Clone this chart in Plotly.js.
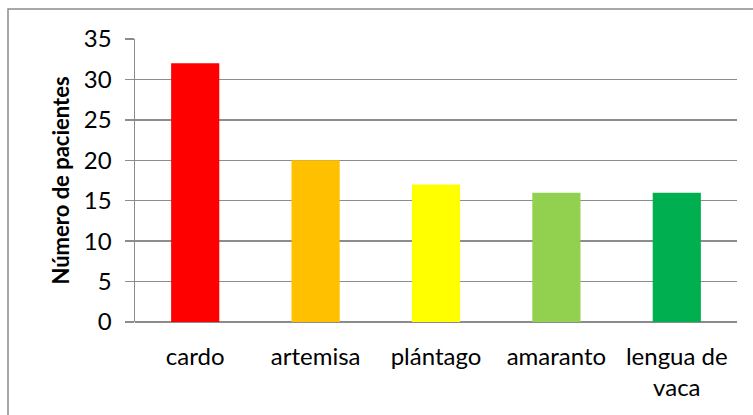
<!DOCTYPE html>
<html>
<head>
<meta charset="utf-8">
<script src="https://cdn.plot.ly/plotly-3.0.1.min.js"></script>
<style>
  html, body { margin: 0; padding: 0; background: #ffffff; }
  #chart { width: 753px; height: 415px; }
</style>
</head>
<body>
<div id="chart"></div>
<script>
// Plants and number of patients for each one
const categories = ["cardo", "artemisa", "plántago", "amaranto", "lengua de<br>vaca"];
const patients = [32, 20, 17, 16, 16];
const barColors = ["#FF0000", "#FFC000", "#FFFF00", "#92D050", "#00B050"];
const yTicks = [0, 5, 10, 15, 20, 25, 30, 35];

const gridGray = "#8C8C8C";
const fontFamily = "Lato, 'Open Sans', sans-serif";

const trace = {
  type: "bar",
  x: categories,
  y: patients,
  marker: { color: barColors, line: { width: 0 } },
  hoverinfo: "x+y"
};

const layout = {
  width: 753,
  height: 415,
  margin: { l: 135, r: 16, t: 39, b: 93 },
  paper_bgcolor: "#ffffff",
  plot_bgcolor: "#ffffff",
  showlegend: false,
  bargap: 0.6,
  font: { family: fontFamily, size: 24, color: "#000000" },
  xaxis: {
    type: "category",
    showgrid: false,
    showline: false,
    zeroline: false,
    ticks: "",
    ticklabelstandoff: 18,
    tickfont: { family: fontFamily, size: 24, color: "#000000" },
    fixedrange: true
  },
  yaxis: {
    range: [0, 35],
    tickvals: yTicks,
    ticktext: yTicks.map(String),
    showgrid: true,
    gridcolor: gridGray,
    gridwidth: 1.5,
    zeroline: true,
    zerolinecolor: gridGray,
    zerolinewidth: 1.5,
    showline: true,
    linecolor: gridGray,
    linewidth: 1.5,
    ticks: "outside",
    ticklen: 9,
    tickwidth: 1.5,
    tickcolor: gridGray,
    ticklabelstandoff: 8,
    tickfont: { family: fontFamily, size: 24, color: "#000000" },
    title: {
      text: "<b>Número de pacientes</b>",
      font: { family: fontFamily, size: 22, color: "#000000" },
      standoff: 8
    },
    fixedrange: true
  },
  shapes: [
    {
      // chart-area frame, open on the right and bottom edges of the page
      type: "rect",
      xref: "paper",
      yref: "paper",
      x0: (8 - 135) / 602,
      x1: (760 - 135) / 602,
      y0: (322 - 425) / 283,
      y1: (322 - 9) / 283,
      line: { color: "#8C8C8C", width: 1.5 },
      fillcolor: "rgba(0,0,0,0)",
      layer: "below"
    }
  ]
};

Plotly.newPlot("chart", [trace], layout, { displayModeBar: false, staticPlot: true });
</script>
</body>
</html>
